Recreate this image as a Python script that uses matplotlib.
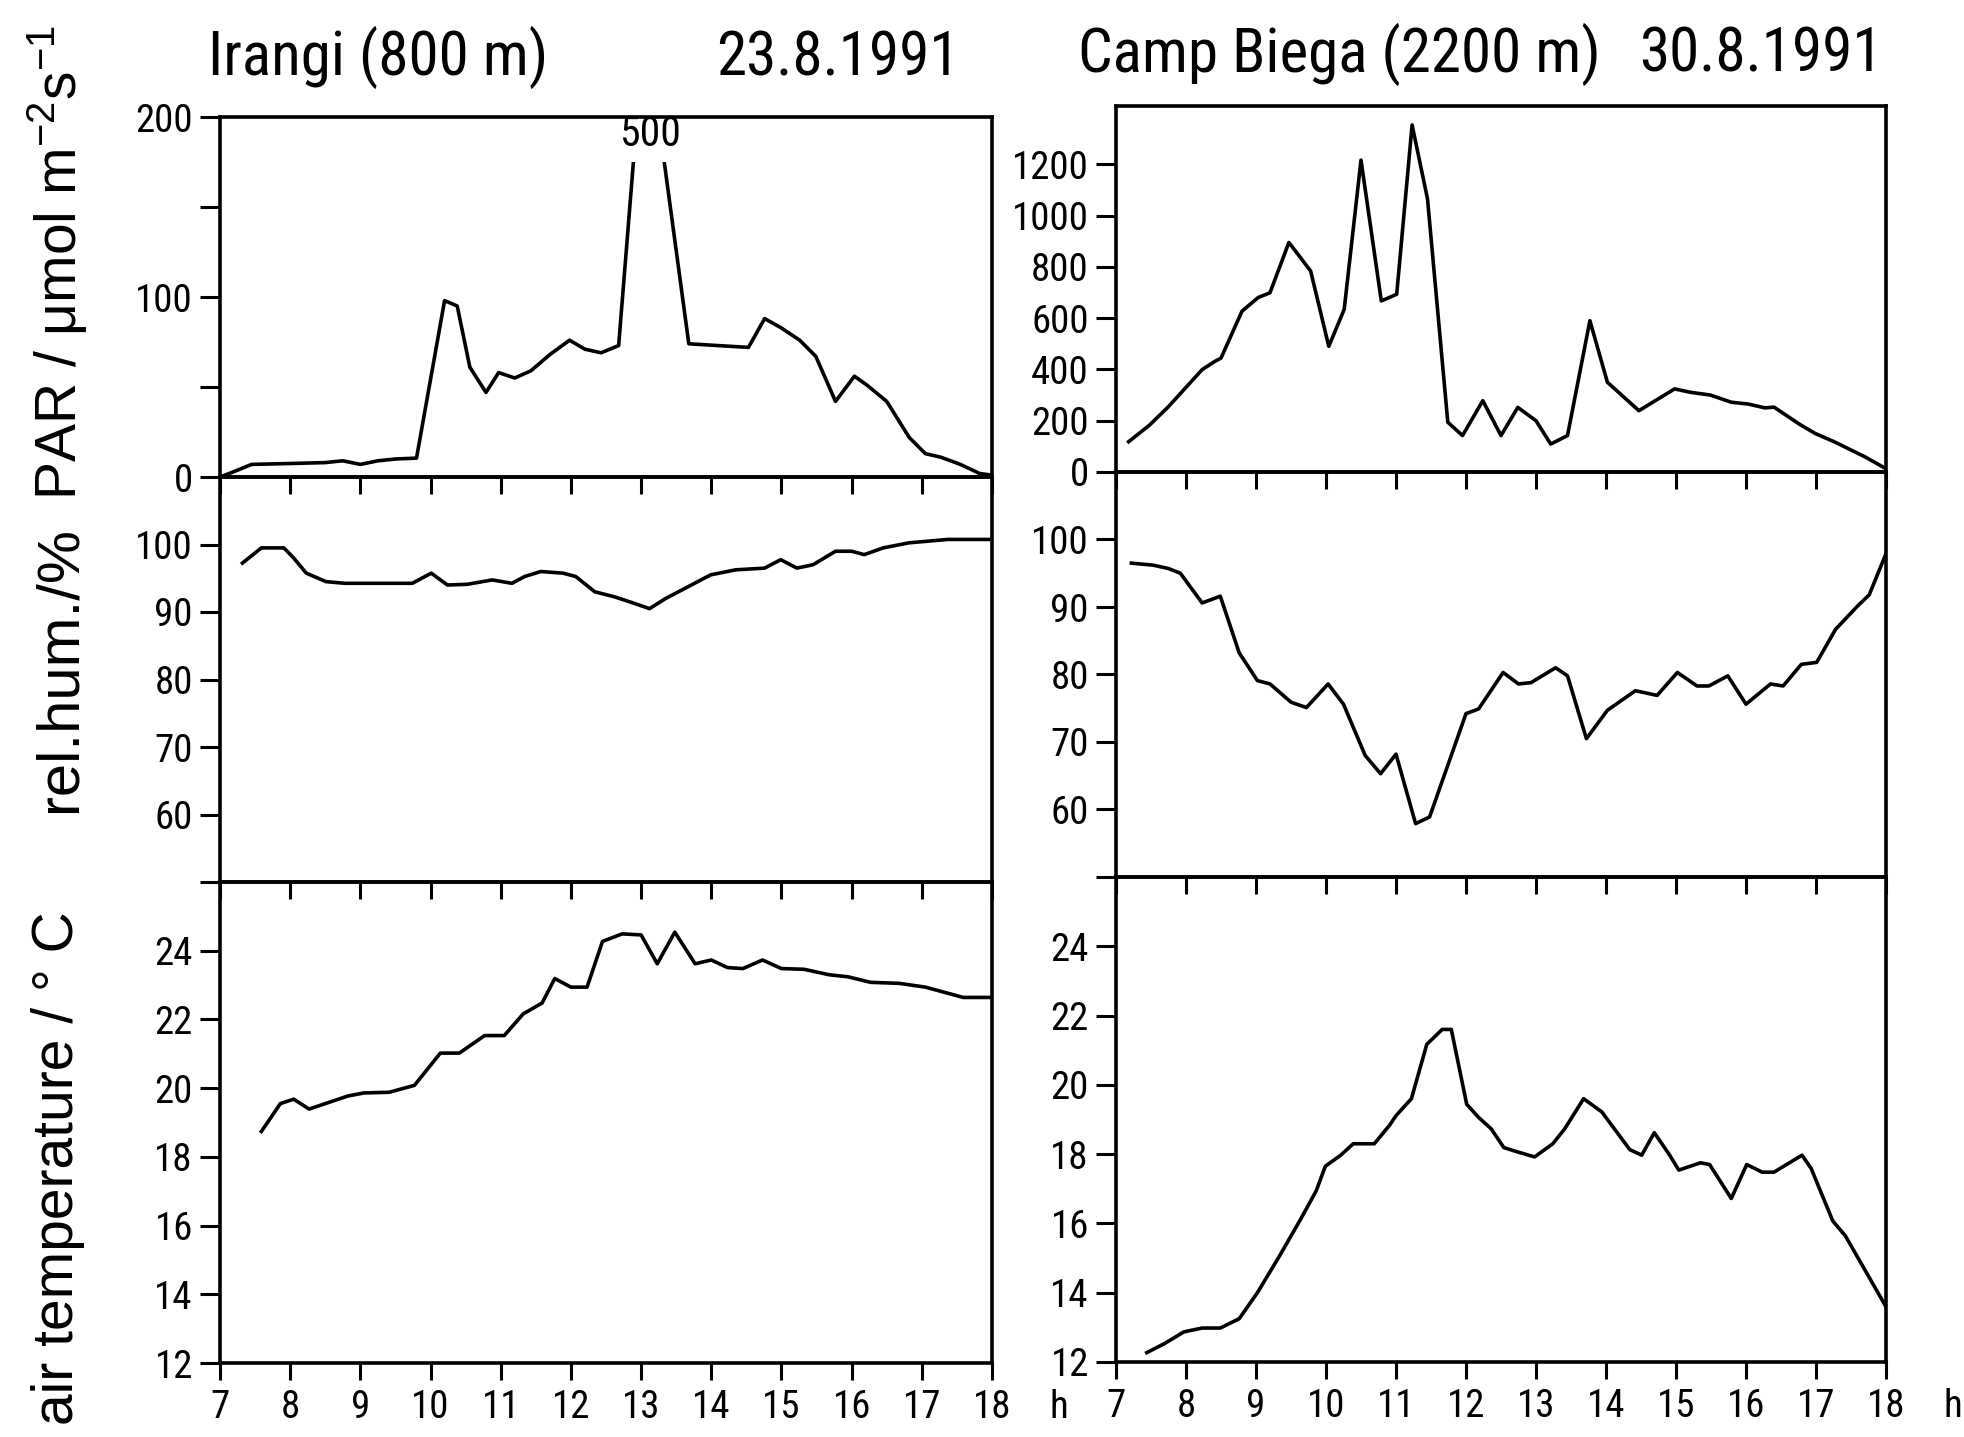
import matplotlib
matplotlib.use("Agg")
import matplotlib.pyplot as plt
from matplotlib import font_manager as fm
from matplotlib import transforms
from matplotlib.patches import Rectangle

plt.rcParams["font.family"] = ["Liberation Sans", "DejaVu Sans"]
plt.rcParams["mathtext.fontset"] = "custom"
plt.rcParams["mathtext.rm"] = "Liberation Sans"
plt.rcParams["mathtext.it"] = "Liberation Sans"

# Irangi (800 m), 23.8.1991
irangi_par_t = [7.0, 7.2, 7.45, 8.0, 8.5, 8.75, 9.0, 9.25, 9.5, 9.8, 10.2, 10.38,
                10.56, 10.79, 10.97, 11.2, 11.43, 11.7, 11.98, 12.2, 12.43, 12.68,
                13.0, 13.12, 13.25, 13.68, 14.53, 14.76, 14.99, 15.26, 15.49, 15.77,
                16.04, 16.22, 16.5, 16.82, 17.05, 17.27, 17.55, 17.82, 18.0]
irangi_par = [0, 3, 7, 7.5, 8, 9, 7, 9, 10, 10.5, 98, 95,
              61, 47, 58, 55, 59, 68, 76, 71, 69, 73,
              228, 500, 198, 74, 72, 88, 83, 76, 67, 42,
              56, 51, 42, 22, 13, 11, 7, 2, 1]

irangi_rh_t = [7.32, 7.59, 7.91, 8.05, 8.23, 8.51, 8.78, 9.33, 9.74, 10.01, 10.24,
               10.52, 10.88, 11.16, 11.34, 11.57, 11.89, 12.07, 12.34, 12.62, 12.84,
               13.12, 13.35, 13.67, 13.99, 14.35, 14.76, 14.99, 15.22, 15.45, 15.77,
               16.0, 16.18, 16.45, 16.82, 17.37, 18.0]
irangi_rh = [97.25, 99.5, 99.5, 98.0, 95.75, 94.5, 94.25, 94.25, 94.25, 95.75, 94.0,
             94.1, 94.75, 94.25, 95.25, 96.0, 95.75, 95.25, 93.0, 92.25, 91.5,
             90.5, 92.0, 93.75, 95.5, 96.25, 96.5, 97.75, 96.5, 97.0, 99.0,
             99.0, 98.5, 99.5, 100.25, 100.75, 100.75]

irangi_temp_t = [7.59, 7.86, 8.05, 8.27, 8.5, 8.82, 9.05, 9.41, 9.77, 10.14, 10.41,
                 10.77, 11.05, 11.32, 11.59, 11.77, 12.0, 12.23, 12.45, 12.73, 13.0,
                 13.23, 13.48, 13.77, 14.0, 14.23, 14.45, 14.73, 15.0, 15.32, 15.68,
                 15.95, 16.27, 16.68, 17.05, 17.32, 17.59, 18.0]
irangi_temp = [18.74, 19.55, 19.68, 19.39, 19.55, 19.77, 19.86, 19.88, 20.08, 21.02, 21.02,
               21.53, 21.53, 22.16, 22.48, 23.19, 22.94, 22.94, 24.27, 24.49, 24.46,
               23.62, 24.54, 23.62, 23.73, 23.51, 23.48, 23.73, 23.48, 23.46, 23.3,
               23.24, 23.08, 23.05, 22.94, 22.79, 22.64, 22.64]

# Camp Biega (2200 m), 30.8.1991
biega_par_t = [7.18, 7.48, 7.75, 8.01, 8.23, 8.41, 8.5, 8.8, 9.03, 9.2, 9.47, 9.78,
               10.04, 10.26, 10.5, 10.79, 11.01, 11.23, 11.45, 11.74, 11.95, 12.24,
               12.5, 12.74, 13.0, 13.21, 13.45, 13.77, 14.02, 14.47, 14.98, 15.2,
               15.49, 15.79, 16.03, 16.27, 16.4, 16.76, 16.99, 17.26, 17.7, 18.0]
biega_par = [118, 183, 255, 333, 399, 431, 444, 627, 680, 699, 895, 784,
             490, 634, 1216, 667, 693, 1353, 1065, 194, 142, 278,
             142, 252, 200, 109, 142, 590, 350, 239, 324, 311,
             300, 272, 265, 250, 253, 187, 150, 118, 59, 13]

biega_rh_t = [7.22, 7.53, 7.75, 7.92, 8.23, 8.49, 8.76, 9.02, 9.2, 9.5, 9.72, 10.03,
              10.25, 10.56, 10.78, 11.0, 11.28, 11.48, 12.0, 12.18, 12.53, 12.75,
              12.93, 13.28, 13.45, 13.72, 14.02, 14.42, 14.73, 15.02, 15.3, 15.47,
              15.74, 16.0, 16.35, 16.53, 16.79, 17.01, 17.28, 17.59, 17.76, 18.0]
biega_rh = [96.5, 96.2, 95.7, 95.0, 90.6, 91.6, 83.2, 79.1, 78.6, 75.9, 75.1, 78.6,
            75.6, 68.0, 65.3, 68.2, 57.9, 58.9, 74.2, 74.9, 80.3, 78.6,
            78.8, 81.0, 79.8, 70.5, 74.7, 77.6, 76.9, 80.3, 78.3, 78.3,
            79.8, 75.6, 78.6, 78.3, 81.5, 81.8, 86.7, 90.1, 91.8, 97.9]

biega_temp_t = [7.44, 7.7, 7.97, 8.23, 8.49, 8.76, 9.02, 9.33, 9.64, 9.86, 9.99,
                10.21, 10.39, 10.69, 10.91, 11.0, 11.22, 11.44, 11.66, 11.79, 12.01,
                12.18, 12.36, 12.54, 12.71, 12.98, 13.24, 13.41, 13.68, 13.94, 14.12,
                14.34, 14.51, 14.69, 14.91, 15.04, 15.35, 15.48, 15.79, 16.01, 16.23,
                16.4, 16.8, 16.93, 17.24, 17.42, 17.99]
biega_temp = [12.27, 12.54, 12.87, 12.98, 12.98, 13.25, 14.0, 15.04, 16.13, 16.94, 17.65,
              17.97, 18.3, 18.3, 18.84, 19.11, 19.6, 21.17, 21.6, 21.6, 19.44,
              19.06, 18.73, 18.19, 18.08, 17.92, 18.3, 18.73, 19.6, 19.22, 18.73,
              18.13, 17.97, 18.62, 17.97, 17.54, 17.75, 17.7, 16.72, 17.7, 17.48,
              17.48, 17.97, 17.59, 16.07, 15.64, 13.63]

hours = list(range(7, 19))
par_peak_label = 500
par_clip_top = 175

W, H = 1965, 1437
LW = 2.6
XT_LEN, XT_PAD = 12, 7


def narrow_font():
    """Return a narrow/condensed sans file if one is installed, else None."""
    regular = (400, "normal", "regular", "book")
    names = ["Liberation Sans Narrow", "DejaVu Sans Condensed", "Roboto Condensed",
             "Open Sans Condensed", "Noto Sans Condensed"]
    for name in names:
        for f in fm.fontManager.ttflist:
            if f.name == name and f.style == "normal" and f.weight in regular:
                return f.fname
    for f in fm.fontManager.ttflist:
        if f.stretch in ("condensed", "semi-condensed") and f.style == "normal" \
                and f.weight in regular:
            return f.fname
    return None


narrow = narrow_font()
if narrow:
    tick_fp = fm.FontProperties(fname=narrow, size=28)
    title_fp = fm.FontProperties(fname=narrow, size=44)
    peak_fp = fm.FontProperties(fname=narrow, size=30)
else:
    tick_fp = fm.FontProperties(family="Liberation Sans", size=25)
    title_fp = fm.FontProperties(family="Liberation Sans", size=38)
    peak_fp = fm.FontProperties(family="Liberation Sans", size=27)


def rect(x0, y0, x1, y1):
    return [x0 / W, 1 - y1 / H, (x1 - x0) / W, (y1 - y0) / H]


def style(ax, yticks, ylabels, show_xlabels=False):
    for s in ax.spines.values():
        s.set_linewidth(LW)
    ax.set_xlim(7, 18)
    ax.set_xticks(hours, labels=[str(h) if show_xlabels else "" for h in hours],
                  fontproperties=tick_fp)
    ax.set_yticks(yticks, labels=ylabels, fontproperties=tick_fp)
    ax.tick_params(axis="x", direction="out", length=XT_LEN, width=2.2, pad=XT_PAD)
    ax.tick_params(axis="y", direction="out", length=14.5, width=2.2, pad=5)
    ax.patch.set_visible(False)


fig = plt.figure(figsize=(W / 100, H / 100), dpi=100)

# left column
ax_lp = fig.add_axes(rect(220, 117, 992, 477))
ax_lr = fig.add_axes(rect(220, 477, 992, 882))
ax_lt = fig.add_axes(rect(220, 882, 992, 1363))
# right column
ax_rp = fig.add_axes(rect(1116, 106, 1886, 472))
ax_rr = fig.add_axes(rect(1116, 472, 1886, 877))
ax_rt = fig.add_axes(rect(1116, 877, 1886, 1362))

rh_ticks = [50, 60, 70, 80, 90, 100]
rh_labels = ["", "60", "70", "80", "90", "100"]
t_ticks = [12, 14, 16, 18, 20, 22, 24]

# PAR, Irangi: the midday peak runs off the scale and is marked with its value
line, = ax_lp.plot(irangi_par_t, irangi_par, color="black", lw=LW)
clip = Rectangle((7, 0), 11, par_clip_top, transform=ax_lp.transData)
line.set_clip_path(clip)
peak_i = irangi_par.index(par_peak_label)
ax_lp.text(irangi_par_t[peak_i], 190, str(par_peak_label), ha="center",
           va="center", fontproperties=peak_fp)
ax_lp.set_ylim(0, 200)
style(ax_lp, [0, 50, 100, 150, 200], ["0", "", "100", "", "200"])

ax_lr.plot(irangi_rh_t, irangi_rh, color="black", lw=LW)
ax_lr.set_ylim(50, 110)
style(ax_lr, rh_ticks, rh_labels)

ax_lt.plot(irangi_temp_t, irangi_temp, color="black", lw=LW)
ax_lt.set_ylim(12, 26)
style(ax_lt, t_ticks, [str(v) for v in t_ticks], show_xlabels=True)

ax_rp.plot(biega_par_t, biega_par, color="black", lw=LW)
ax_rp.set_ylim(0, 1427)
par_ticks = list(range(0, 1201, 200))
style(ax_rp, par_ticks, [str(v) for v in par_ticks])

ax_rr.plot(biega_rh_t, biega_rh, color="black", lw=LW)
ax_rr.set_ylim(50, 110)
style(ax_rr, rh_ticks, rh_labels)

ax_rt.plot(biega_temp_t, biega_temp, color="black", lw=LW)
ax_rt.set_ylim(12, 26)
style(ax_rt, t_ticks, [str(v) for v in t_ticks], show_xlabels=True)

# hour unit after the last tick label, on the tick-label baseline
for ax in (ax_lt, ax_rt):
    tr = transforms.offset_copy(ax.get_xaxis_transform(), fig=fig,
                                y=-(XT_LEN + XT_PAD), units="points")
    ax.text(18.96, 0, "h", transform=tr, ha="center", va="top",
            fontproperties=tick_fp, clip_on=False)

# column headings
fig.text(208 / W, 1 - 75 / H, "Irangi (800 m)", ha="left", va="baseline",
         fontproperties=title_fp)
fig.text(960 / W, 1 - 75 / H, "23.8.1991", ha="right", va="baseline",
         fontproperties=title_fp)
fig.text(1078 / W, 1 - 72 / H, "Camp Biega (2200 m)", ha="left", va="baseline",
         fontproperties=title_fp)
fig.text(1883 / W, 1 - 72 / H, "30.8.1991", ha="right", va="baseline",
         fontproperties=title_fp)

# row labels
ylab_kw = dict(rotation=90, ha="center", va="center", fontsize=41)
fig.text(58 / W, 1 - 263 / H, r"PAR / $\mu$mol m$^{-2}$s$^{-1}$", **ylab_kw)
fig.text(60 / W, 1 - 669 / H, "rel.hum./%", fontsize=43, rotation=90,
         ha="center", va="center")
fig.text(58 / W, 1 - 1168 / H, "air temperature / ° C", **ylab_kw)

fig.savefig("out.png", dpi=100)
